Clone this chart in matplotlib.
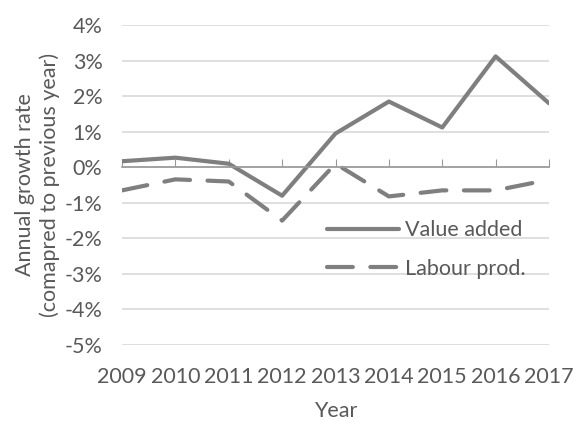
import matplotlib
matplotlib.use("Agg")
import matplotlib.pyplot as plt
from matplotlib.ticker import FuncFormatter

years = [2009, 2010, 2011, 2012, 2013, 2014, 2015, 2016, 2017]
value_added = [0.17, 0.27, 0.10, -0.80, 0.95, 1.85, 1.12, 3.12, 1.80]
labour_prod = [-0.65, -0.34, -0.40, -1.50, 0.10, -0.82, -0.65, -0.65, -0.35]
y_ticks = [-5, -4, -3, -2, -1, 0, 1, 2, 3, 4]

text_col = "#595959"
line_col = "#7f7f7f"

plt.rcParams["font.family"] = ["Lato", "DejaVu Sans"]
plt.rcParams["font.size"] = 15.5

fig = plt.figure(figsize=(5.74, 4.22), dpi=100)
ax = fig.add_axes([0.2125, 0.1825, 0.744, 0.758])

ax.plot(years, value_added, color=line_col, lw=3, solid_capstyle="round",
        label="Value added")
ax.plot(years, labour_prod, color=line_col, lw=3, dashes=(6.2, 4.2),
        dash_capstyle="round", label="Labour prod.")

ax.set_xlim(years[0], years[-1])
ax.set_ylim(-5, 4)
ax.set_yticks(y_ticks)
ax.yaxis.set_major_formatter(FuncFormatter(lambda v, p: f"{int(v)}%"))
ax.grid(axis="y", color="#d9d9d9", lw=1.2)
ax.set_axisbelow(True)
for s in ["left", "right", "top"]:
    ax.spines[s].set_visible(False)

# category axis drawn across the zero line, ticks pointing up
ax.spines["bottom"].set_position(("data", 0))
ax.spines["bottom"].set_color("#999999")
ax.spines["bottom"].set_linewidth(1.2)
ax.set_xticks(years)
ax.tick_params(axis="x", direction="in", length=6, color="#999999",
               labelbottom=False)
ax.tick_params(axis="y", length=0, pad=14, labelcolor=text_col)

sec = ax.secondary_xaxis(0.0)
sec.set_xticks(years)
sec.set_xticklabels([str(y) for y in years])
sec.tick_params(length=0, pad=16, labelcolor=text_col)
sec.spines["bottom"].set_visible(False)
sec.set_xlabel("Year", color=text_col, labelpad=10)

ax.set_ylabel("Annual growth rate\n(comapred to previous year)",
              color=text_col, labelpad=3, linespacing=1.3)

ax.legend(loc="upper left", bbox_to_anchor=(0.48, 0.39), frameon=False,
          handlelength=3.35, handletextpad=0.28, labelspacing=0.85,
          labelcolor=text_col, borderaxespad=0, borderpad=0)

fig.savefig("out.png", dpi=100)
